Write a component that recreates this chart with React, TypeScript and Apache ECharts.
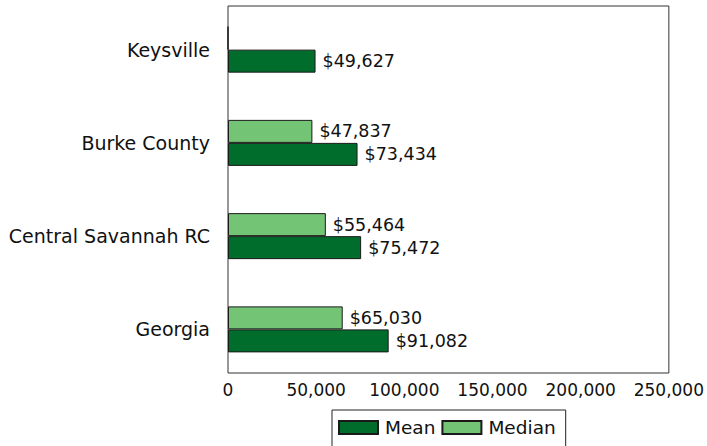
import React, { useEffect, useRef } from "react";
import * as echarts from "echarts";

const categories = ["Georgia", "Central Savannah RC", "Burke County", "Keysville"];
const meanValues = [91082, 75472, 73434, 49627];
const medianValues = [65030, 55464, 47837, 0];
const xTicks = [0, 50000, 100000, 150000, 200000, 250000];

const FONT = "DejaVu Sans";

function fmt(v: number) {
  return v.toLocaleString("en-US");
}

export default function App() {
  const ref = useRef<HTMLDivElement>(null);
  useEffect(() => {
    const chart = echarts.init(ref.current!, null, { renderer: "svg" });
    chart.setOption({
      animation: false,
      textStyle: { fontFamily: FONT },
      grid: [
        {
          left: 228,
          right: 38,
          top: 6,
          bottom: 73,
          show: true,
          borderColor: "#333",
          borderWidth: 1,
        },
        {
          left: 228,
          right: 38,
          top: 3,
          bottom: 70,
          show: false,
        },
      ],
      legend: {
        data: ["Mean", "Median"],
        icon: "rect",
        left: 332,
        top: 410,
        orient: "horizontal",
        borderColor: "#222",
        borderWidth: 1,
        padding: [8, 10, 12, 6],
        itemGap: 6,
        itemWidth: 39,
        itemHeight: 13,
        textStyle: { fontSize: 18.5, color: "#111", fontFamily: FONT, padding: [0, 0, 0, 2] },
      },
      xAxis: [
        {
          type: "value",
          gridIndex: 0,
          min: xTicks[0],
          max: xTicks[xTicks.length - 1],
          interval: 50000,
          splitLine: { show: false },
          axisLine: { show: false },
          axisTick: { show: false },
          axisLabel: {
            fontSize: 17,
            color: "#111",
            margin: 8,
            formatter: (v: number) => fmt(v),
          },
        },
        {
          type: "value",
          gridIndex: 1,
          min: xTicks[0],
          max: xTicks[xTicks.length - 1],
          show: false,
        },
      ],
      yAxis: [
        {
          type: "category",
          gridIndex: 0,
          data: categories,
          show: false,
        },
        {
          type: "category",
          gridIndex: 1,
          data: categories,
          axisLine: { show: false },
          axisTick: { show: false },
          splitLine: { show: false },
          axisLabel: { fontSize: 19, color: "#111", margin: 18 },
        },
      ],
      series: [
        {
          name: "Median",
          type: "bar",
          xAxisIndex: 1,
          yAxisIndex: 1,
          data: medianValues,
          barWidth: 23,
          barGap: "0%",
          itemStyle: { color: "#74c476", borderColor: "#1a1a1a", borderWidth: 1 },
          label: {
            show: true,
            position: "right",
            distance: 7,
            fontSize: 17.5,
            color: "#111",
            formatter: (p: any) => (p.value > 0 ? "$" + fmt(p.value) : ""),
          },
        },
        {
          name: "Mean",
          type: "bar",
          xAxisIndex: 1,
          yAxisIndex: 1,
          data: meanValues,
          barWidth: 23,
          barGap: "0%",
          itemStyle: { color: "#006d2c", borderColor: "#1a1a1a", borderWidth: 1 },
          label: {
            show: true,
            position: "right",
            distance: 7,
            fontSize: 17.5,
            color: "#111",
            formatter: (p: any) => "$" + fmt(p.value),
          },
        },
      ],
    });
    return () => chart.dispose();
  }, []);
  return <div ref={ref} style={{ width: 707, height: 446, position: "absolute", left: 0, top: 0 }} />;
}
